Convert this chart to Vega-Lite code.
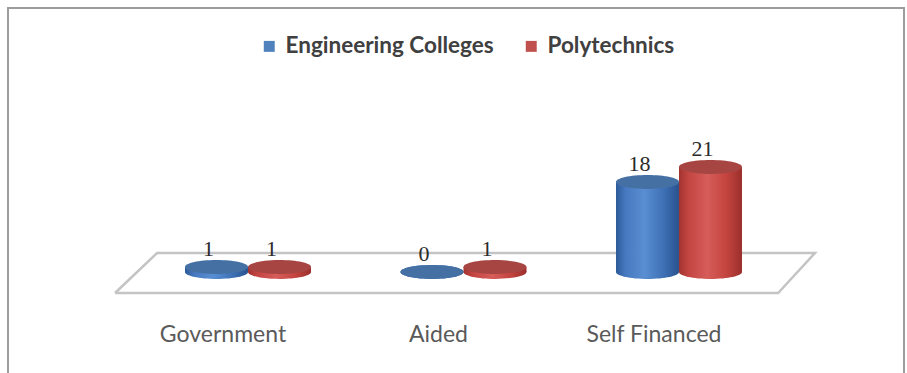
{
  "$schema": "https://vega.github.io/schema/vega-lite/v6.json",
  "width": 896,
  "height": 366,
  "autosize": {"type": "none"},
  "padding": {"left": 8, "top": 8, "right": 3, "bottom": 0},
  "background": "white",
  "config": {
    "view": {"stroke": "#9C9C9C", "strokeWidth": 2},
    "font": "Lato"
  },
  "datasets": {
    "counts": [
      {"category": "Government", "series": "Engineering Colleges", "value": 1},
      {"category": "Government", "series": "Polytechnics", "value": 1},
      {"category": "Aided", "series": "Engineering Colleges", "value": 0},
      {"category": "Aided", "series": "Polytechnics", "value": 1},
      {"category": "Self Financed", "series": "Engineering Colleges", "value": 18},
      {"category": "Self Financed", "series": "Polytechnics", "value": 21}
    ],
    "floor": [
      {"k": 0, "fx": -0.117, "fy": -4.2},
      {"k": 1, "fx": 0.078, "fy": 3.8},
      {"k": 2, "fx": 3.131, "fy": 3.8},
      {"k": 3, "fx": 2.96, "fy": -4.2},
      {"k": 4, "fx": -0.117, "fy": -4.2}
    ]
  },
  "layer": [
    {
      "data": {"name": "floor"},
      "mark": {"type": "line", "stroke": "#C4C4C4", "strokeWidth": 2.5, "strokeJoin": "miter"},
      "encoding": {
        "x": {"field": "fx", "type": "quantitative", "scale": {"domain": [-0.6137, 3.5441], "nice": false, "zero": false}, "axis": null},
        "y": {"field": "fy", "type": "quantitative", "scale": {"domain": [-20.4, 52.8], "nice": false, "zero": false}, "axis": null},
        "order": {"field": "k", "type": "quantitative"}
      }
    },
    {
      "data": {"name": "counts"},
      "encoding": {
        "x": {
          "field": "category",
          "type": "nominal",
          "sort": ["Government", "Aided", "Self Financed"],
          "scale": {"paddingInner": 0.4153, "paddingOuter": 0.78655, "align": 0.5221},
          "axis": {
            "title": null,
            "domain": false,
            "ticks": false,
            "offset": -51,
            "labelPadding": 0,
            "labelOffset": -25,
            "labelAngle": 0,
            "labelFont": "Lato",
            "labelFontSize": 23,
            "labelColor": "#5A5A5A",
            "labelLimit": 300
          }
        },
        "xOffset": {
          "field": "series",
          "type": "nominal",
          "scale": {"domain": ["Engineering Colleges", "Polytechnics"], "paddingInner": 0, "paddingOuter": 0}
        },
        "y": {"field": "value", "type": "quantitative", "scale": {"domain": [-20.4, 52.8], "nice": false, "zero": false}, "axis": null}
      },
      "layer": [
        {
          "transform": [{"filter": "datum.series === 'Engineering Colleges'"}],
          "mark": {
            "type": "point", "filled": true, "size": 3969, "opacity": 1, "strokeWidth": 0,
            "shape": "M-1,0C-1,-0.1215,-0.5523,-0.22,0,-0.22C0.5523,-0.22,1,-0.1215,1,0C1,0.1215,0.5523,0.22,0,0.22C-0.5523,0.22,-1,0.1215,-1,0Z",
            "fill": {"gradient": "linear", "x1": 0, "x2": 1, "y1": 0, "y2": 0, "stops": [
              {"offset": 0, "color": "#2C5A99"}, {"offset": 0.15, "color": "#4679C0"}, {"offset": 0.45, "color": "#5A8ED2"},
              {"offset": 0.75, "color": "#3E71B6"}, {"offset": 1, "color": "#2A528E"}]}
          },
          "encoding": {"y": {"datum": 0}}
        },
        {
          "transform": [{"filter": "datum.series === 'Polytechnics'"}],
          "mark": {
            "type": "point", "filled": true, "size": 3969, "opacity": 1, "strokeWidth": 0,
            "shape": "M-1,0C-1,-0.1215,-0.5523,-0.22,0,-0.22C0.5523,-0.22,1,-0.1215,1,0C1,0.1215,0.5523,0.22,0,0.22C-0.5523,0.22,-1,0.1215,-1,0Z",
            "fill": {"gradient": "linear", "x1": 0, "x2": 1, "y1": 0, "y2": 0, "stops": [
              {"offset": 0, "color": "#A23330"}, {"offset": 0.15, "color": "#C44542"}, {"offset": 0.45, "color": "#D65D5A"},
              {"offset": 0.75, "color": "#C4443F"}, {"offset": 1, "color": "#9A2F2C"}]}
          },
          "encoding": {"y": {"datum": 0}}
        },
        {
          "transform": [{"filter": "datum.series === 'Engineering Colleges'"}],
          "mark": {
            "type": "bar",
            "fill": {"gradient": "linear", "x1": 0, "x2": 1, "y1": 0, "y2": 0, "stops": [
              {"offset": 0, "color": "#2C5A99"}, {"offset": 0.15, "color": "#4679C0"}, {"offset": 0.45, "color": "#5A8ED2"},
              {"offset": 0.75, "color": "#3E71B6"}, {"offset": 1, "color": "#2A528E"}]}
          },
          "encoding": {"y2": {"datum": 0}}
        },
        {
          "transform": [{"filter": "datum.series === 'Polytechnics'"}],
          "mark": {
            "type": "bar",
            "fill": {"gradient": "linear", "x1": 0, "x2": 1, "y1": 0, "y2": 0, "stops": [
              {"offset": 0, "color": "#A23330"}, {"offset": 0.15, "color": "#C44542"}, {"offset": 0.45, "color": "#D65D5A"},
              {"offset": 0.75, "color": "#C4443F"}, {"offset": 1, "color": "#9A2F2C"}]}
          },
          "encoding": {"y2": {"datum": 0}}
        },
        {
          "mark": {
            "type": "point", "filled": true, "size": 3969, "opacity": 1, "strokeWidth": 0,
            "shape": "M-1,0C-1,-0.1215,-0.5523,-0.22,0,-0.22C0.5523,-0.22,1,-0.1215,1,0C1,0.1215,0.5523,0.22,0,0.22C-0.5523,0.22,-1,0.1215,-1,0Z"
          },
          "encoding": {
            "color": {
              "field": "series",
              "type": "nominal",
              "scale": {"domain": ["Engineering Colleges", "Polytechnics"], "range": ["#4F81BD", "#C0504D"]},
              "legend": {
                "title": null,
                "orient": "none",
                "legendX": 250,
                "legendY": 27,
                "direction": "horizontal",
                "symbolType": "square",
                "symbolSize": 120,
                "symbolStrokeWidth": 0,
                "symbolOpacity": 1,
                "labelFont": "Lato",
                "labelFontSize": 22.5,
                "labelFontWeight": "bold",
                "labelColor": "#404040",
                "labelOffset": 5,
                "labelLimit": 400,
                "columnPadding": 26,
                "padding": 0
              }
            }
          }
        },
        {
          "mark": {
            "type": "point", "filled": true, "size": 3969, "color": "#000000", "opacity": 0.13, "strokeWidth": 0,
            "shape": "M-1,0C-1,-0.1215,-0.5523,-0.22,0,-0.22C0.5523,-0.22,1,-0.1215,1,0C1,0.1215,0.5523,0.22,0,0.22C-0.5523,0.22,-1,0.1215,-1,0Z"
          }
        },
        {
          "mark": {
            "type": "text", "baseline": "middle", "align": "center", "dy": -18, "dx": -8,
            "font": "Liberation Serif", "fontSize": 22, "color": "#2B2B2B"
          },
          "encoding": {"text": {"field": "value", "type": "quantitative"}}
        }
      ]
    }
  ],
  "resolve": {"scale": {"x": "independent"}}
}
